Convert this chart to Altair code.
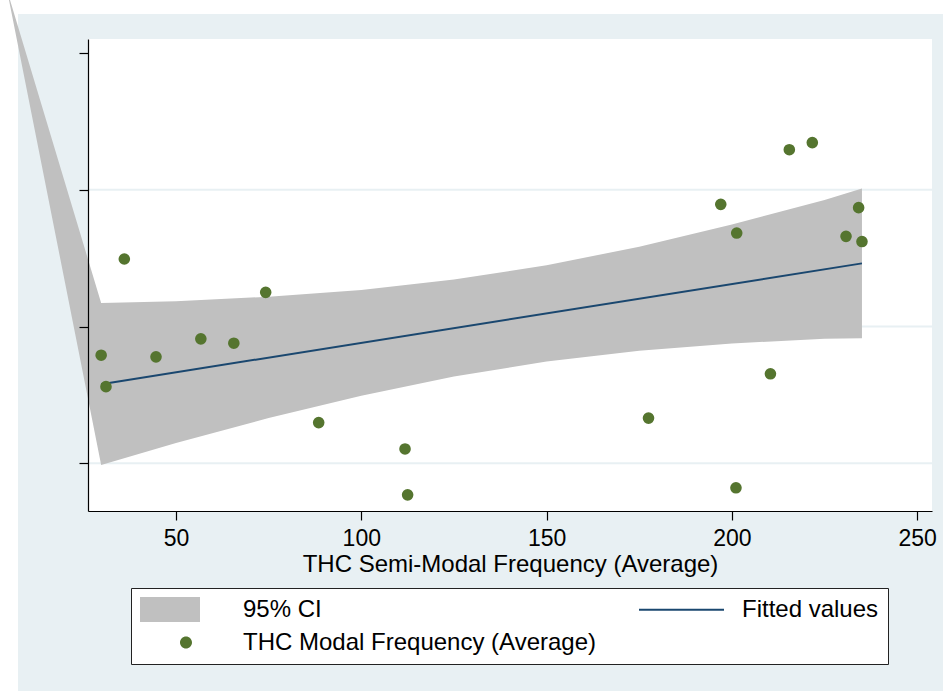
import altair as alt
import pandas as pd

# Observations: THC semi-modal vs modal frequency (averages)
semi_modal = [29.8, 31.1, 36.05, 44.6, 56.7, 65.6, 74.2, 88.5, 111.8, 112.5,
              177.5, 197.0, 201.3, 201.1, 210.4, 215.5, 221.7, 230.8, 234.2, 235.1]
modal = [139.5, 128.0, 174.7, 138.9, 145.5, 143.9, 162.5, 114.85, 105.2, 88.4,
         116.5, 194.7, 184.2, 91.0, 132.7, 214.7, 217.3, 183.0, 193.5, 181.1]

# Linear fit and its 95% confidence band (first row is the stray band vertex)
band_x = [4.4, 29.8, 50, 75, 100, 125, 150, 175, 200, 225, 235.1]
band_lo = [273.1, 99.3, 107.4, 116.5, 124.7, 131.7, 137.2, 141.1, 143.8, 145.5, 145.7]
band_hi = [273.1, 158.6, 159.2, 160.9, 163.4, 167.2, 172.4, 179.2, 187.3, 196.3, 200.5]
fit_x = [29.8, 235.1]
fit_y = [128.9, 173.1]

x_ticks = [50, 100, 150, 200, 250]
y_ticks = [100, 150, 200, 250]
grid_values = [100, 150, 200]

# legend entries fill column by column: CI and scatter on the left, fit on the right
legend_names = ["95% CI", "THC Modal Frequency (Average)", "Fitted values"]
legend_colors = ["#C0C0C0", "#55752F", "#1A476F"]
# key glyphs in unit coordinates: wide swatch, small dot, thin line
legend_shapes = [
    "M-1,-1H3.8V1H-1Z",
    "M-1,0L-1,0.001ZM3.16,0A0.48,0.48,0,1,1,2.2,0A0.48,0.48,0,1,1,3.16,0Z",
    "M-1,-0.08H5.8V0.08H-1Z",
]

W, H = 844, 472
BG = "#E8F0F3"

points = pd.DataFrame({"semi": semi_modal, "modal": modal})
band = pd.DataFrame({"semi": band_x, "lo": band_lo, "hi": band_hi})
fit = pd.DataFrame({"semi": fit_x, "modal": fit_y})
grid = pd.DataFrame({"modal": grid_values})
keys = pd.DataFrame({"series": legend_names})
one = pd.DataFrame({"k": [0]})

x_scale = alt.Scale(domain=[26.25, 254.0], nice=False, zero=False)
y_scale = alt.Scale(domain=[82.5, 255.2], nice=False, zero=False)

x_axis = alt.Axis(values=x_ticks, title="THC Semi-Modal Frequency (Average)",
                  grid=False, tickSize=9, labelPadding=7, labelFlush=False,
                  titlePadding=2, titleFontSize=24, zindex=1)
y_axis = alt.Axis(values=y_ticks, labels=False, title=None, grid=False,
                  tickSize=9, zindex=1)

def X(f):
    return alt.X(f"{f}:Q", scale=x_scale, axis=x_axis)

def Y(f):
    return alt.Y(f"{f}:Q", scale=y_scale, axis=y_axis)

# white page margin on the left and top of the graph region
left_strip = alt.Chart(one).mark_rect(color="white").encode(
    x=alt.value(-88), x2=alt.value(-70), y=alt.value(-39), y2=alt.value(H + 180))
top_strip = alt.Chart(one).mark_rect(color="white").encode(
    x=alt.value(-88), x2=alt.value(W + 11), y=alt.value(-39), y2=alt.value(-25))

gridlines = alt.Chart(grid).mark_rule(color=BG, strokeWidth=2).encode(y=Y("modal"))

ci = alt.Chart(band).mark_area(color="#C0C0C0", opacity=1, clip=False).encode(
    x=X("semi"), y=Y("lo"), y2="hi")

fitted = alt.Chart(fit).mark_line(color="#1A476F", strokeWidth=2).encode(
    x=X("semi"), y=Y("modal"))

dots = alt.Chart(points).mark_circle(color="#55752F", size=135, opacity=1).encode(
    x=X("semi"), y=Y("modal"))

leg = dict(title=None, orient="none", legendX=43, legendY=549, columns=2,
           padding=9, fillColor="white", strokeColor="#222222",
           symbolSize=625, symbolStrokeWidth=0, symbolOffset=0, labelOffset=78,
           labelFontSize=24, labelColor="black", labelLimit=0,
           columnPadding=42, rowPadding=8, symbolOpacity=1)

key_layer = alt.Chart(keys).mark_point(filled=True, size=625).encode(
    x=alt.value(-5000), y=alt.value(-5000),
    color=alt.Color("series:N", scale=alt.Scale(domain=legend_names, range=legend_colors),
                    legend=alt.Legend(**leg)),
    shape=alt.Shape("series:N", scale=alt.Scale(domain=legend_names, range=legend_shapes),
                    legend=alt.Legend(**leg)),
)

chart = alt.layer(left_strip, top_strip, gridlines, ci, fitted, dots, key_layer).properties(
    width=W, height=H,
    autosize=alt.AutoSizeParams(type="none"),
    padding={"left": 88, "top": 39, "right": 11, "bottom": 180},
    background=BG,
).configure(font="Liberation Sans").configure_view(
    fill="white", stroke=None
).configure_axis(
    domainColor="black", tickColor="black", labelColor="black", titleColor="black",
    labelFontSize=23, titleFontSize=24, titleFontWeight="normal",
    domainWidth=1.2, tickWidth=1.2,
)

chart.save("out.html", embed_options={"renderer": "svg", "actions": False})
